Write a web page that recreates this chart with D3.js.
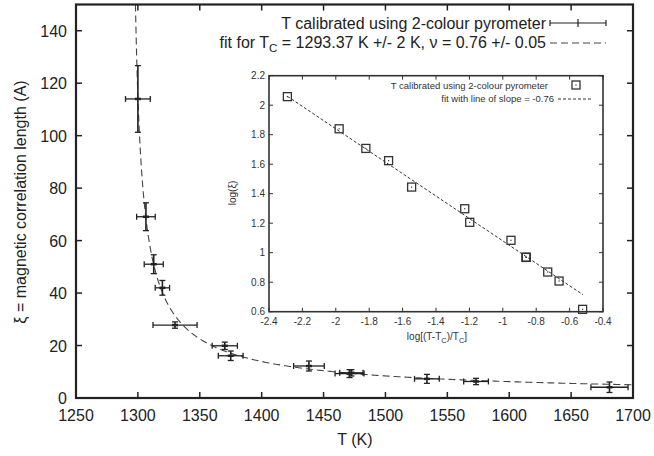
<!DOCTYPE html>
<html><head><meta charset="utf-8">
<script src="https://cdn.jsdelivr.net/npm/d3@7"></script>
<style>body{margin:0;background:#fff}svg{display:block;font-family:"Liberation Sans",Arial,sans-serif}</style>
</head><body><svg id="c" width="654" height="456"></svg>
<script>
// ---- data ----
const mainT   = [1300, 1306.5, 1312.8, 1319.8, 1330, 1370.2, 1375, 1438.2, 1471, 1472.5, 1533.5, 1573.2, 1681];
const mainXi  = [114, 69.1, 51.0, 42.0, 27.8, 19.9, 16.1, 12.2, 9.3, 9.6, 7.3, 6.3, 4.1];
const errT    = [10, 7.5, 7.7, 5.8, 17.8, 10.2, 10, 12.4, 11.7, 9.4, 10, 10, 15];
const errXi   = [12.7, 5.3, 3.6, 2.8, 1.2, 1.4, 1.8, 1.9, 1.5, 1.2, 1.7, 1.2, 2.0];
const insetLogT  = [-2.29, -1.98, -1.82, -1.684, -1.546, -1.228, -1.198, -0.951, -0.859, -0.862, -0.731, -0.663, -0.522];
const insetLogXi = [2.058, 1.84, 1.707, 1.624, 1.445, 1.298, 1.206, 1.084, 0.968, 0.970, 0.869, 0.808, 0.616];
const fitTc = 1293.37, fitNu = 0.76, fitLogA = 0.32;
const insetFitRange = [-2.29, -0.52];
const xTicks = [1250,1300,1350,1400,1450,1500,1550,1600,1650,1700];
const yTicks = [0,20,40,60,80,100,120,140];
const ixTicks = [-2.4,-2.2,-2,-1.8,-1.6,-1.4,-1.2,-1,-0.8,-0.6,-0.4];
const iyTicks = [0.6,0.8,1,1.2,1.4,1.6,1.8,2,2.2];

const svg = d3.select("#c");
const ink = "#222";

// ---- main plot ----
const x = d3.scaleLinear().domain([1250,1700]).range([76,633]);
const y = d3.scaleLinear().domain([0,150]).range([398,4.5]);
const g = svg.append("g");

// ticks (inward, mirrored)
const tl = 6;
xTicks.forEach(t=>{
  g.append("line").attr("x1",x(t)).attr("x2",x(t)).attr("y1",y(0)).attr("y2",y(0)-tl).attr("stroke",ink).attr("stroke-width",1.5);
  g.append("line").attr("x1",x(t)).attr("x2",x(t)).attr("y1",y(150)).attr("y2",y(150)+tl).attr("stroke",ink).attr("stroke-width",1.5);
  g.append("text").attr("x",x(t)).attr("y",421).attr("text-anchor","middle").attr("font-size",16).attr("fill",ink).text(t);
});
yTicks.forEach(t=>{
  g.append("line").attr("x1",x(1250)).attr("x2",x(1250)+tl).attr("y1",y(t)).attr("y2",y(t)).attr("stroke",ink).attr("stroke-width",1.5);
  g.append("line").attr("x1",x(1700)).attr("x2",x(1700)-tl).attr("y1",y(t)).attr("y2",y(t)).attr("stroke",ink).attr("stroke-width",1.5);
  g.append("text").attr("x",67).attr("y",y(t)+6).attr("text-anchor","end").attr("font-size",16).attr("fill",ink).text(t);
});

// fit curve
const curveT = d3.range(0,401).map(i=>{
  const lo = fitTc + fitTc*Math.pow(10,(fitLogA-Math.log10(150))/fitNu);
  return lo + (1700-lo)*Math.pow(i/400,2.2);
});
const fitXi = T => Math.pow(10,fitLogA)*Math.pow((T-fitTc)/fitTc,-fitNu);
g.append("path").datum(curveT)
  .attr("d",d3.line().x(d=>x(d)).y(d=>y(Math.min(150,fitXi(d)))))
  .attr("fill","none").attr("stroke","#444").attr("stroke-width",1.1).attr("stroke-dasharray","7,4");

// error bars
const cap = 3;
mainT.forEach((T,i)=>{
  const cx=x(T), cy=y(mainXi[i]);
  const x0=x(T-errT[i]), x1=x(T+errT[i]), y0=y(mainXi[i]-errXi[i]), y1=y(mainXi[i]+errXi[i]);
  const eb = g.append("g").attr("stroke",ink).attr("stroke-width",1.3);
  eb.append("line").attr("x1",x0).attr("x2",x1).attr("y1",cy).attr("y2",cy);
  eb.append("line").attr("x1",x0).attr("x2",x0).attr("y1",cy-cap).attr("y2",cy+cap);
  eb.append("line").attr("x1",x1).attr("x2",x1).attr("y1",cy-cap).attr("y2",cy+cap);
  eb.append("line").attr("x1",cx).attr("x2",cx).attr("y1",y0).attr("y2",y1).attr("stroke-width",1.6);
  eb.append("line").attr("x1",cx-cap).attr("x2",cx+cap).attr("y1",y0).attr("y2",y0);
  eb.append("line").attr("x1",cx-cap).attr("x2",cx+cap).attr("y1",y1).attr("y2",y1);
  eb.append("line").attr("x1",cx-3).attr("x2",cx+3).attr("y1",cy).attr("y2",cy).attr("stroke-width",2.5);
});

// frame
g.append("rect").attr("x",x(1250)).attr("y",y(150)).attr("width",x(1700)-x(1250)).attr("height",y(0)-y(150))
  .attr("fill","none").attr("stroke",ink).attr("stroke-width",2.2);

// axis labels
g.append("text").attr("x",355).attr("y",445).attr("text-anchor","middle").attr("font-size",16).attr("fill",ink).text("T (K)");
g.append("text").attr("transform","translate(26,202) rotate(-90)").attr("text-anchor","middle").attr("font-size",16).attr("fill",ink)
  .text("ξ = magnetic correlation length (A)");

// main legend
const lg = svg.append("g").attr("font-size",16).attr("fill",ink);
lg.append("text").attr("x",546).attr("y",28.5).attr("text-anchor","end").text("T calibrated using 2-colour pyrometer");
const l2 = lg.append("text").attr("x",546).attr("y",48).attr("text-anchor","end");
l2.append("tspan").text("fit for T");
l2.append("tspan").attr("font-size",11.5).attr("dy",4).text("C");
l2.append("tspan").attr("dy",-4).text(" = 1293.37 K +/- 2 K, ν = 0.76 +/- 0.05");
const ls = svg.append("g").attr("stroke",ink).attr("stroke-width",1.2);
ls.append("line").attr("x1",550).attr("x2",606).attr("y1",23).attr("y2",23);
ls.append("line").attr("x1",550).attr("x2",550).attr("y1",20).attr("y2",26);
ls.append("line").attr("x1",606).attr("x2",606).attr("y1",20).attr("y2",26);
ls.append("line").attr("x1",578).attr("x2",578).attr("y1",19).attr("y2",27);
svg.append("line").attr("x1",550).attr("x2",606).attr("y1",43).attr("y2",43)
  .attr("stroke","#444").attr("stroke-width",1.1).attr("stroke-dasharray","7,4");

// ---- inset ----
const ix = d3.scaleLinear().domain([-2.4,-0.4]).range([269,603]);
const iy = d3.scaleLinear().domain([0.6,2.2]).range([311.7,75.7]);
const ig = svg.append("g");
ig.append("rect").attr("x",ix(-2.4)).attr("y",iy(2.2)).attr("width",ix(-0.4)-ix(-2.4)).attr("height",iy(0.6)-iy(2.2))
  .attr("fill","#fff").attr("stroke","#333").attr("stroke-width",1.6);
const itl = 4;
ixTicks.forEach(t=>{
  ig.append("line").attr("x1",ix(t)).attr("x2",ix(t)).attr("y1",iy(0.6)).attr("y2",iy(0.6)-itl).attr("stroke","#333");
  ig.append("line").attr("x1",ix(t)).attr("x2",ix(t)).attr("y1",iy(2.2)).attr("y2",iy(2.2)+itl).attr("stroke","#333");
  ig.append("text").attr("x",ix(t)).attr("y",325).attr("text-anchor","middle").attr("font-size",10).attr("fill","#333").text(t);
});
iyTicks.forEach(t=>{
  ig.append("line").attr("x1",ix(-2.4)).attr("x2",ix(-2.4)+itl).attr("y1",iy(t)).attr("y2",iy(t)).attr("stroke","#333");
  ig.append("line").attr("x1",ix(-0.4)).attr("x2",ix(-0.4)-itl).attr("y1",iy(t)).attr("y2",iy(t)).attr("stroke","#333");
  ig.append("text").attr("x",265).attr("y",iy(t)+3.5).attr("text-anchor","end").attr("font-size",10).attr("fill","#333").text(t);
});
// fit line
ig.append("path").datum(insetFitRange)
  .attr("d",d3.line().x(d=>ix(d)).y(d=>iy(fitLogA - fitNu*d)))
  .attr("stroke","#333").attr("stroke-width",1).attr("stroke-dasharray","3,2").attr("fill","none");
// markers
function sq(sel,cx,cy){
  sel.append("rect").attr("x",cx-4).attr("y",cy-4).attr("width",8).attr("height",8).attr("fill","none").attr("stroke","#333").attr("stroke-width",1.3);
  sel.append("rect").attr("x",cx-0.6).attr("y",cy-0.6).attr("width",1.2).attr("height",1.2).attr("fill","#333");
}
insetLogT.forEach((v,i)=>sq(ig,ix(v),iy(insetLogXi[i])));
// inset legend
ig.append("text").attr("x",548).attr("y",89).attr("text-anchor","end").attr("font-size",9.5).attr("fill","#333").text("T calibrated using 2-colour pyrometer");
ig.append("text").attr("x",554).attr("y",102).attr("text-anchor","end").attr("font-size",9.5).attr("fill","#333").text("fit with line of slope = -0.76");
sq(ig,576,85);
ig.append("line").attr("x1",558).attr("x2",592).attr("y1",99).attr("y2",99).attr("stroke","#333").attr("stroke-dasharray","3,2");
// inset axis labels
const ixl = ig.append("text").attr("x",437).attr("y",340).attr("text-anchor","middle").attr("font-size",10).attr("fill","#333");
ixl.append("tspan").text("log[(T-T");
ixl.append("tspan").attr("font-size",7.5).attr("dy",2.5).text("C");
ixl.append("tspan").attr("dy",-2.5).text(")/T");
ixl.append("tspan").attr("font-size",7.5).attr("dy",2.5).text("C");
ixl.append("tspan").attr("dy",-2.5).text("]");
ig.append("text").attr("transform","translate(236,193) rotate(-90)").attr("text-anchor","middle").attr("font-size",10).attr("fill","#333").text("log(ξ)");
</script></body></html>
